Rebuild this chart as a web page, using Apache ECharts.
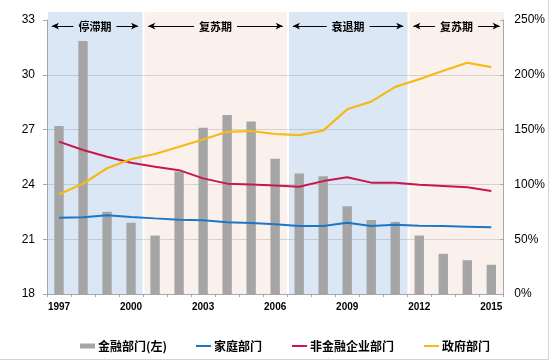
<!DOCTYPE html>
<html>
<head>
<meta charset="utf-8">
<script src="https://cdn.jsdelivr.net/npm/echarts@6/dist/echarts.min.js"></script>
<style>
html,body{margin:0;padding:0;background:#fff;}
#chart{width:548px;height:359px;border-right:1px solid #D4D4D4;border-bottom:1px solid #D4D4D4;}
</style>
</head>
<body>
<div id="chart"></div>
<script>
const years = ['1997','1998','1999','2000','2001','2002','2003','2004','2005','2006','2007','2008','2009','2010','2011','2012','2013','2014','2015'];
const financial = [27.2,31.85,22.5,21.9,21.2,24.7,27.1,27.8,27.45,25.4,24.6,24.45,22.8,22.05,21.95,21.2,20.2,19.85,19.6];
const household = [69.6,70,71.8,70.3,69,67.8,67.2,65.4,64.8,63.6,62,62,65,62,63.2,62.3,62,61.4,60.8];
const corporate = [139,131.4,125.3,119.8,116.2,113,105.5,100.7,100,99.1,97.9,103,106.5,101.6,101.5,99.7,98.5,97.3,94];
const government = [91,100.6,114.7,123,127.7,134.4,141,148,148.7,146,145,149,168.5,175.5,189,196,203.7,211,207];
const seriesNames = ['金融部门(左)','家庭部门','非金融企业部门','政府部门'];
const periodNames = ['停滞期','复苏期','衰退期','复苏期'];
const periodStart = [1997,2001,2007,2012];
const periodEnd = [2000,2006,2011,2015];
const periodKind = ['down','up','down','up'];

const overlay = {down:'rgba(102,152,208,0.235)', up:'rgba(230,165,135,0.16)'};
const composite = {down:'#DAE6F4', up:'#FBF1EC'};
const FONT = "'Liberation Sans', Arial, sans-serif";
const CJK = "'Noto Sans CJK SC', sans-serif";

const chart = echarts.init(document.getElementById('chart'), null, {renderer:'canvas'});
const inset = 0.04;
const legendText = {fontFamily:CJK, fontSize:12, fontWeight:'bold', color:'#000', padding:[0,0,0,-2]};
const option = {
  animation:false,
  grid:[
    {left:47, right:43, top:20, bottom:65},
    {left:47, right:43, top:12, bottom:65}
  ],
  legend:[
    {left:80, top:340, padding:0, itemWidth:15, itemHeight:5, itemGap:30, icon:'rect',
     textStyle:legendText, data:[seriesNames[0]]},
    {left:196, top:340, padding:0, itemWidth:15, itemHeight:2, itemGap:30, icon:'rect',
     textStyle:legendText, data:[seriesNames[1], seriesNames[2], seriesNames[3]]}
  ],
  xAxis:[
    {type:'category', gridIndex:0, data:years, boundaryGap:true,
     axisLine:{lineStyle:{color:'#A6A6A6', width:1}},
     axisTick:{show:true, interval:0, length:3, lineStyle:{color:'#A6A6A6'}},
     axisLabel:{interval:2, margin:8, fontFamily:FONT, fontSize:10, fontWeight:'bold', color:'#000'}},
    {type:'value', gridIndex:1, min:1996.5, max:2015.5, show:false}
  ],
  yAxis:[
    {type:'value', gridIndex:0, min:18, max:33, interval:3, position:'left',
     axisLine:{show:true, lineStyle:{color:'#A6A6A6'}},
     axisTick:{show:true, length:4, lineStyle:{color:'#A6A6A6'}},
     axisLabel:{margin:12, fontFamily:FONT, fontSize:12, color:'#000'},
     splitLine:{show:true, showMaxLine:false, showMinLine:false, lineStyle:{color:'#D9D9D9'}}},
    {type:'value', gridIndex:0, min:0, max:250, interval:50, position:'right',
     axisLine:{show:true, lineStyle:{color:'#A6A6A6'}},
     axisTick:{show:true, inside:true, length:3, lineStyle:{color:'#A6A6A6'}},
     axisLabel:{margin:11, formatter:'{value}%', fontFamily:FONT, fontSize:12, color:'#000'},
     splitLine:{show:false}},
    {type:'value', gridIndex:1, min:0, max:1, show:false}
  ],
  series:[
    {name:seriesNames[0], type:'bar', xAxisIndex:0, yAxisIndex:0, data:financial, barWidth:'39%',
     itemStyle:{color:'#A5A5A5'}, z:2},
    {name:seriesNames[1], type:'line', xAxisIndex:0, yAxisIndex:1, data:household, symbol:'none',
     lineStyle:{color:'#1C76C6', width:2}, itemStyle:{color:'#1C76C6'}, z:3},
    {name:seriesNames[2], type:'line', xAxisIndex:0, yAxisIndex:1, data:corporate, symbol:'none',
     lineStyle:{color:'#C8174D', width:2}, itemStyle:{color:'#C8174D'}, z:3},
    {name:seriesNames[3], type:'line', xAxisIndex:0, yAxisIndex:1, data:government, symbol:'none',
     lineStyle:{color:'#F6B915', width:2.2}, itemStyle:{color:'#F6B915'}, z:3},
    {name:'bands', type:'line', xAxisIndex:1, yAxisIndex:2, data:[], z:5, silent:true,
     markArea:{silent:true, data: periodNames.map((n,i)=>[
        {xAxis: periodStart[i]-0.5+inset, itemStyle:{color:overlay[periodKind[i]]}},
        {xAxis: periodEnd[i]+0.5-inset}
     ])}},
    {name:'periods', type:'line', xAxisIndex:1, yAxisIndex:2, data:[], z:6, silent:true,
     markLine:{silent:true, symbol:['arrow','arrow'], symbolSize:[5,7],
       lineStyle:{color:'#000', width:1, type:'solid'},
       label:{show:true, position:'middle', distance:-7, formatter:'{b}', fontFamily:CJK, fontSize:11, fontWeight:'bold', color:'#000', padding:[1,5]},
       data: periodNames.map((n,i)=>[
         {coord:[periodStart[i]-0.5+0.2, 0.95], name:n, label:{backgroundColor:composite[periodKind[i]]}},
         {coord:[periodEnd[i]+0.5-0.22, 0.95]}
       ])}}
  ]
};
chart.setOption(option);
</script>
</body>
</html>
